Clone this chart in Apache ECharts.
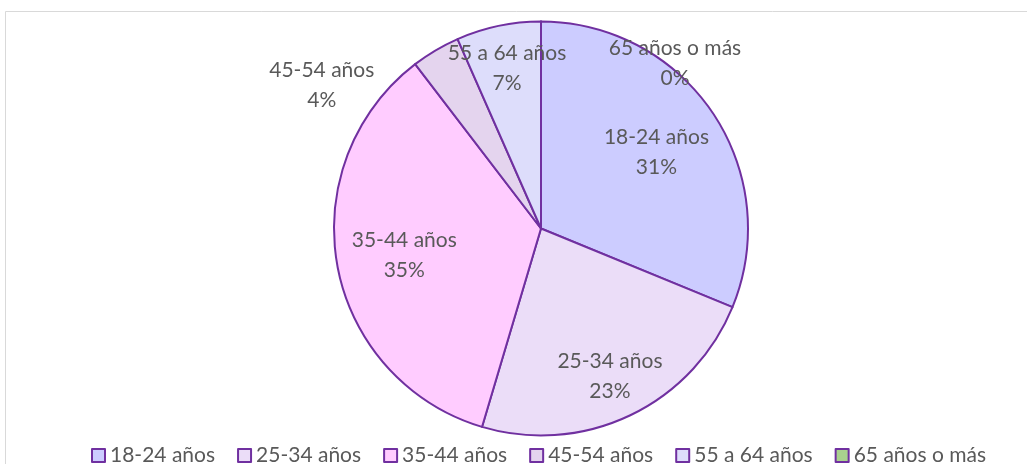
<!DOCTYPE html>
<html>
<head>
<meta charset="utf-8">
<script src="https://cdn.jsdelivr.net/npm/echarts@6/dist/echarts.min.js"></script>
<style>
  html, body { margin: 0; padding: 0; background: #fff; }
  #main { width: 1027px; height: 464px; }
</style>
</head>
<body>
<div id="main"></div>
<script>
  // grupos de edad
  const categories = ['18-24 años', '25-34 años', '35-44 años', '45-54 años', '55 a 64 años', '65 años o más'];
  // porcentaje de cada grupo
  const values = [31.2, 23.4, 35.0, 3.8, 6.6, 0];
  const colors = ['#CCCCFF', '#EBDDF8', '#FFCCFF', '#E4D4EE', '#DDDDFB', '#A9D18E'];

  // desplazamiento de las etiquetas respecto a la posicion "inside"
  const labelShift = [[27, -17], [23, 52], [-32, 7], [-165, -52], [-12, -56], [134, -59]];

  const myChart = echarts.init(document.getElementById('main'));

  let option = {
    backgroundColor: '#fff',
    animation: false,
    textStyle: { fontFamily: 'Lato' },
    graphic: [{
      type: 'rect',
      shape: { x: 5.5, y: 11.5, width: 1100, height: 600 },
      style: { fill: 'none', stroke: '#D9D9D9', lineWidth: 1 },
      silent: true
    }],
    legend: {
      bottom: -7,
      left: 86,
      icon: 'rect',
      itemWidth: 13,
      itemHeight: 13,
      itemGap: 22,
      textStyle: { color: '#595959', fontSize: 21, fontFamily: 'Lato' },
      data: categories
    },
    series: [{
      type: 'pie',
      center: [541, 228.5],
      radius: 207,
      startAngle: 90,
      clockwise: true,
      percentPrecision: 0,
      stillShowZeroSum: true,
      minShowLabelAngle: 0,
      itemStyle: { borderColor: '#7030A0', borderWidth: 2 },
      label: {
        show: true,
        position: 'inside',
        formatter: '{b}\n{d}%',
        color: '#595959',
        fontSize: 21,
        lineHeight: 30,
        fontFamily: 'Lato'
      },
      labelLine: { show: false },
      labelLayout: function (params) {
        const s = labelShift[params.dataIndex];
        return { dx: s[0], dy: s[1] };
      },
      emphasis: { disabled: true },
      data: categories.map(function (c, i) {
        return { name: c, value: values[i], itemStyle: { color: colors[i] } };
      })
    }]
  };
  myChart.setOption(option);
</script>
</body>
</html>
